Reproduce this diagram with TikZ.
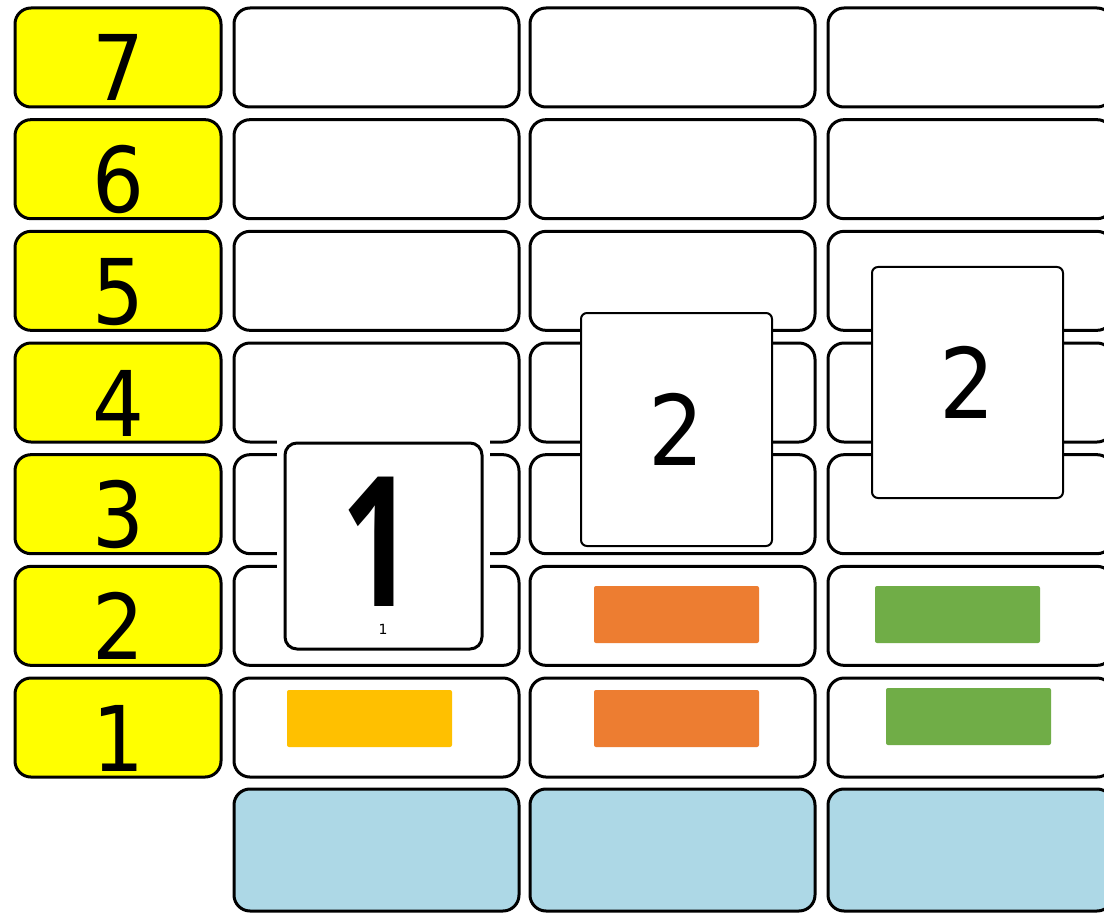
\documentclass[tikz,border=0pt]{standalone}
\usepackage{fontspec}
\setmainfont{DejaVu Sans}
\newfontfamily\unofont{Open Sans}
\usetikzlibrary{positioning}
\definecolor{amarillo}{HTML}{FFFF00}
\definecolor{celeste}{HTML}{ADD8E6}
\definecolor{naranja}{HTML}{ED7D31}
\definecolor{oro}{HTML}{FFC000}
\definecolor{verde}{HTML}{70AD47}
\newcommand\angosto[1]{\scalebox{0.9}[1]{#1}}
\tikzset{
 cell/.style={draw=black,line width=2.25pt,rounded corners=12pt},
 card/.style={draw=black,fill=white,line width=1.5pt,rounded corners=4.5pt,inner sep=0pt},
 bar/.style={rounded corners=1.5pt}
}

\begin{document}
\begin{tikzpicture}[x=0.75pt,y=-0.75pt,line join=round]
\useasboundingbox (0,0) rectangle (1104,913);
\clip (0,0) rectangle (1104,913);

\foreach \k in {1,...,7} {
 \pgfmathsetmacro\yy{8+(7-\k)*111.67}
 \draw[cell,fill=amarillo] (15,\yy) rectangle (221,\yy+99);
 \node[anchor=base,inner sep=0pt,font=\fontsize{68}{68}\selectfont] (r\k) at (118,\yy+93) {\angosto{\k}};
 \foreach \x in {234,530,828} \draw[cell,fill=white] (\x,\yy) rectangle (\x+285,\yy+99);
}
\foreach \x in {234,530,828} \draw[cell,fill=celeste] (\x,789) rectangle (\x+285,911);

\fill[bar,oro] (287,690) rectangle (452,747);
\fill[bar,naranja] (594,586) rectangle (759,643);
\fill[bar,naranja] (594,690) rectangle (759,747);
\fill[bar,verde] (875,586) rectangle (1040,643);
\fill[bar,verde] (886,688) rectangle (1051,745);

\fill[white] (277,436) rectangle (490,656);
\node[card,line width=2.25pt,rounded corners=9pt,minimum width=147.75pt,minimum height=154.5pt] (c1) at (383.5,546) {};
\node[anchor=base,inner sep=0pt] (c1big) at (377.5,606) {\scalebox{0.7}[1]{\fontsize{136}{136}\unofont\bfseries 1}};
\node[anchor=base,inner sep=0pt,font=\fontsize{10.5}{10.5}\selectfont] (c1small) at (383,634) {1};

\node[card,minimum width=143.25pt,minimum height=174.75pt,font=\fontsize{73}{73}\selectfont] (c2) at (676.5,429.5) {\angosto{2}};
\node[card,minimum width=143.25pt,minimum height=173.25pt,font=\fontsize{73}{73}\selectfont] (c3) at (967.5,382.5) {\angosto{2}};

\end{tikzpicture}
\end{document}
